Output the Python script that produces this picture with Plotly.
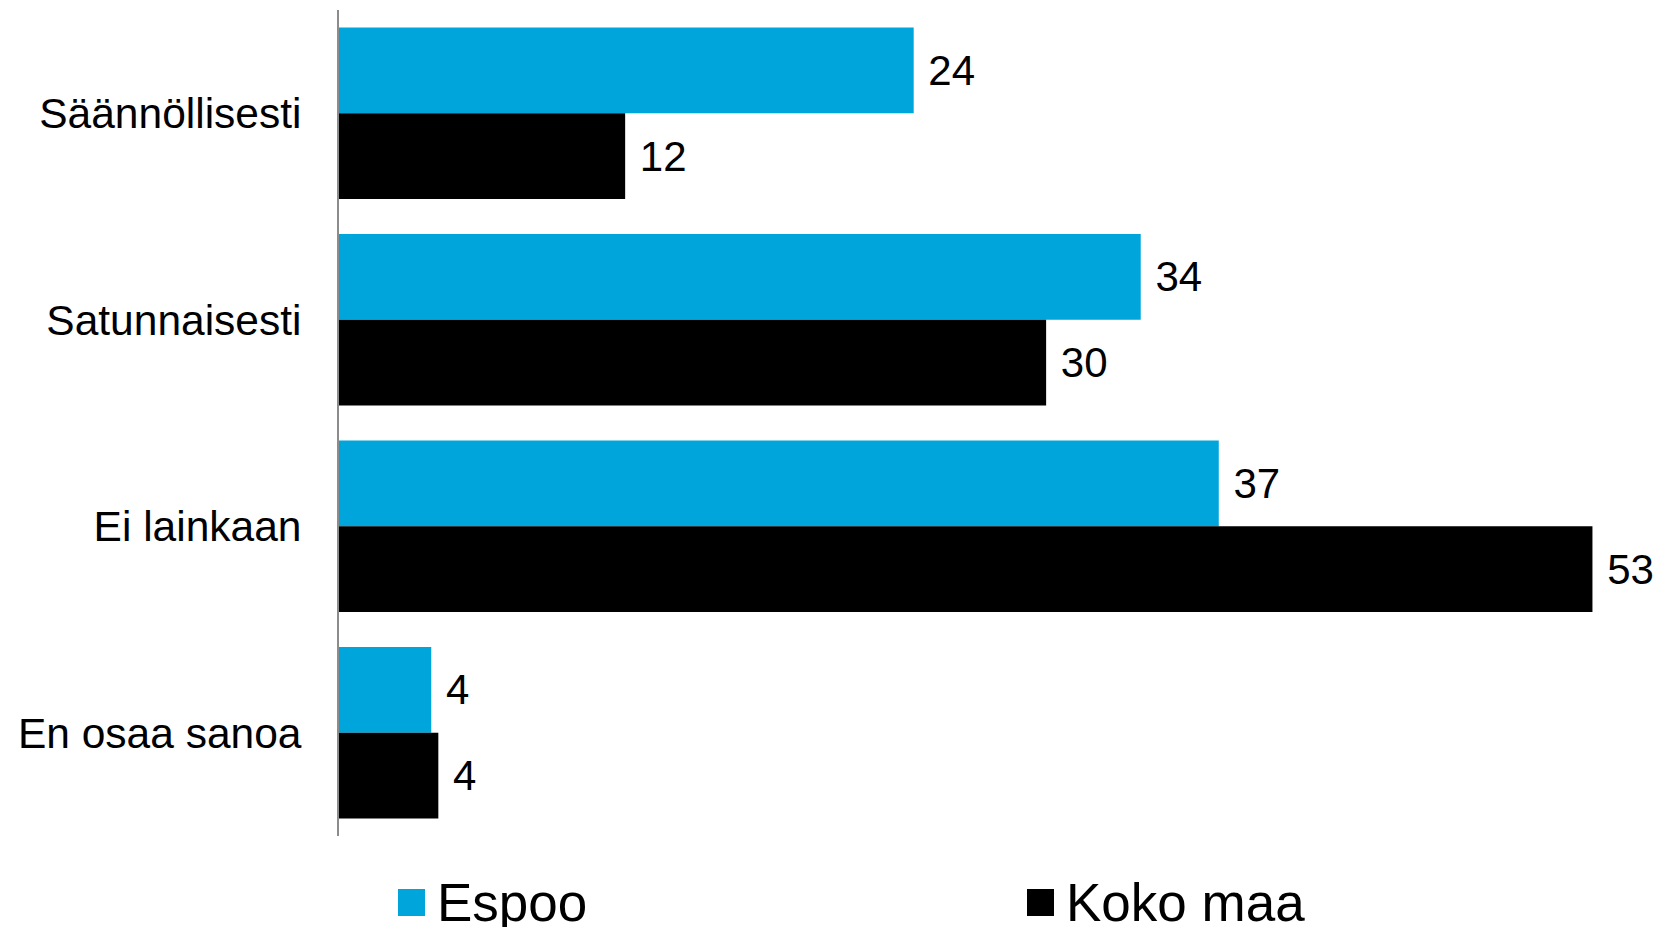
import plotly.graph_objects as go

categories = ["Säännöllisesti", "Satunnaisesti", "Ei lainkaan", "En osaa sanoa"]
# bar lengths; labels are the rounded values shown
espoo = [24.3, 33.9, 37.2, 3.9]
koko_maa = [12.1, 29.9, 53.0, 4.2]
espoo_labels = ["24", "34", "37", "4"]
koko_maa_labels = ["12", "30", "53", "4"]
series_names = ["Espoo", "Koko maa"]

BLUE = "#00A5DB"
BLACK = "#000000"
FONT = "Liberation Sans, Arial, sans-serif"

W, H = 1660, 927
ML, MR, MT, MB = 339, 0, 10, 91
PW, PH = W - ML - MR, H - MT - MB
XMAX = PW / 23.65


def px_x(p):
    return (p - ML) / PW


def px_y(p):
    return (H - MB - p) / PH


fig = go.Figure()
for name, vals, labels, col in [(series_names[0], espoo, espoo_labels, BLUE),
                                (series_names[1], koko_maa, koko_maa_labels, BLACK)]:
    fig.add_trace(go.Bar(
        y=categories, x=vals, name=name, orientation="h",
        marker=dict(color=col, line=dict(width=0)),
        text=["\u00a0" + t for t in labels], texttemplate="%{text}", textposition="outside",
        cliponaxis=False,
        textfont=dict(family=FONT, size=42, color="#000000"),
        showlegend=False, hoverinfo="skip",
    ))

# legend drawn manually (large swatches)
legend_items = [(series_names[0], BLUE, 398, 435), (series_names[1], BLACK, 1027, 1064)]
shapes = []
annotations = []
for name, col, sx, tx in legend_items:
    shapes.append(dict(type="rect", xref="paper", yref="paper",
                       x0=px_x(sx), x1=px_x(sx + 27), y0=px_y(916), y1=px_y(889),
                       fillcolor=col, line=dict(width=0)))
    annotations.append(dict(xref="paper", yref="paper", x=px_x(tx), y=px_y(902),
                            text=name, showarrow=False, xanchor="left", yanchor="middle",
                            font=dict(family=FONT, size=53, color="#000000")))

fig.update_layout(
    width=W, height=H,
    margin=dict(l=ML, r=MR, t=MT, b=MB, pad=0),
    paper_bgcolor="white", plot_bgcolor="white",
    barmode="group", bargap=0.17, bargroupgap=0,
    shapes=shapes, annotations=annotations,
    font=dict(family=FONT, color="#000000"),
)
fig.update_xaxes(range=[0, XMAX], visible=False, showgrid=False, zeroline=False)
fig.update_yaxes(autorange="reversed", showline=True, linecolor="#8c8c8c", linewidth=2,
                 ticks="", showgrid=False, zeroline=False, ticklabelstandoff=27,
                 tickfont=dict(family=FONT, size=42.5, color="#000000"))

fig.write_html("out.html", config={"displayModeBar": False},
               post_script="document.body.style.margin='0px';document.body.style.overflow='hidden';")
